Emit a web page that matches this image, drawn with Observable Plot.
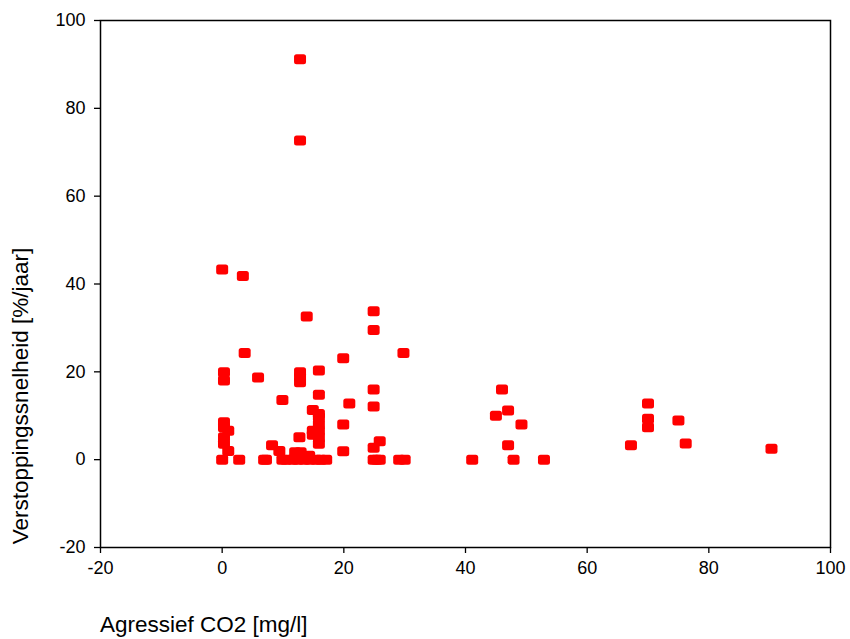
<!DOCTYPE html>
<html>
<head>
<meta charset="utf-8">
<script src="https://cdn.jsdelivr.net/npm/d3@7"></script>
<script src="https://cdn.jsdelivr.net/npm/@observablehq/plot@0.6"></script>
<style>
  html, body { margin: 0; padding: 0; background: #fff; overflow: hidden; }
  #chart { width: 850px; height: 639px; }
  #chart svg text { font-family: 'Liberation Sans', Arial, sans-serif; fill: #000; }
  #chart svg g[aria-label$="tick label"] text { font-size: 18px !important; }
</style>
</head>
<body>
<div id="chart"></div>
<script>
// Agressief CO2 [mg/l]
const co2 = [
  0, 3.4, 12.8, 12.8, 13.9, 24.9, 24.9, 3.7, 19.9, 29.8,
  0.3, 0.3, 5.9, 12.8, 12.8, 12.8, 15.9, 9.9, 15.9, 24.9,
  20.9, 24.9, 14.9, 15.9, 15.9, 19.9, 15.9, 0.3, 0.3, 1.0,
  14.9, 14.9, 15.9, 15.9, 15.9, 12.7, 0.3, 0.3, 1.0, 8.2,
  9.4, 12.0, 12.9, 19.9, 24.9, 25.9, 14.3,
  0, 2.8, 6.9, 7.2, 9.9, 10.5, 11.6, 12.4, 13.5, 14.4, 15.5, 16.2, 17.1,
  24.9, 25.4, 25.9, 29.1, 30.0, 41.1, 47.9, 52.9,
  46.0, 47.0, 45.0, 49.2, 47.0, 70, 70, 70, 75, 67.2, 76.2, 90.3
];
// Verstoppingssnelheid [%/jaar]
const rate = [
  43.3, 41.8, 91.2, 72.7, 32.6, 33.8, 29.5, 24.3, 23.1, 24.3,
  19.9, 18.0, 18.7, 19.9, 18.8, 17.6, 20.3, 13.6, 14.8, 16.0,
  12.8, 12.1, 11.3, 10.4, 9.8, 8.0, 8.1, 8.5, 7.4, 6.6,
  6.6, 5.7, 6.6, 5.1, 3.6, 5.1, 5.1, 3.6, 2.0, 3.3,
  2.0, 1.7, 1.7, 1.9, 2.7, 4.2, 0.9,
  0, 0, 0, 0, 0, 0, 0, 0, 0, 0, 0, 0, 0,
  0, 0, 0, 0, 0, 0, 0, 0,
  16.0, 11.2, 10.0, 8.0, 3.3, 12.8, 9.3, 7.4, 8.9, 3.3, 3.7, 2.5
];
const xTicks = [-20, 0, 20, 40, 60, 80, 100];
const yTicks = [-20, 0, 20, 40, 60, 80, 100];
const xLabel = "Agressief CO2 [mg/l]";
const yLabel = "Verstoppingssnelheid [%/jaar]";

const data = co2.map((x, i) => ({x, y: rate[i]}));

// rounded-rectangle marker
const roundRect = {
  draw(ctx, size) {
    const w = 6, h = 5, r = 2.5;
    ctx.moveTo(-w + r, -h);
    ctx.lineTo(w - r, -h);
    ctx.arcTo(w, -h, w, -h + r, r);
    ctx.lineTo(w, h - r);
    ctx.arcTo(w, h, w - r, h, r);
    ctx.lineTo(-w + r, h);
    ctx.arcTo(-w, h, -w, h - r, r);
    ctx.lineTo(-w, -h + r);
    ctx.arcTo(-w, -h, -w + r, -h, r);
    ctx.closePath();
  }
};

const plot = Plot.plot({
  width: 850,
  height: 639,
  marginLeft: 100,
  marginRight: 20,
  marginTop: 20,
  marginBottom: 92,
  style: {fontFamily: "'Liberation Sans', Arial, sans-serif", fontSize: "18px", color: "#000", background: "#fff"},
  x: {domain: [-20, 100], label: null},
  y: {domain: [-20, 100], label: null},
  marks: [
    Plot.dot(data, {x: "x", y: "y", symbol: roundRect, fill: "#ff0000", stroke: "none"}),
    Plot.frame({stroke: "#000", strokeWidth: 1.5}),
    Plot.axisX({ticks: xTicks, tickSize: 6, tickPadding: 8, label: null, tickFormat: d => String(d), stroke: "#000", strokeWidth: 1.3, fontSize: 18}),
    Plot.axisY({ticks: yTicks, tickSize: 6, tickPadding: 9, label: null, tickFormat: d => String(d), stroke: "#000", strokeWidth: 1.3, fontSize: 18})
  ]
});

const svg = d3.select(plot);
svg.append("text")
  .attr("x", 100).attr("y", 632)
  .attr("text-anchor", "start")
  .style("text-anchor", "start")
  .style("font-size", "22.5px")
  .style("fill", "#000")
  .text(xLabel);
svg.append("text")
  .attr("transform", "translate(28,396) rotate(-90)")
  .attr("text-anchor", "middle")
  .style("text-anchor", "middle")
  .style("font-size", "22.5px")
  .style("fill", "#000")
  .text(yLabel);

document.getElementById("chart").appendChild(plot);
</script>
</body>
</html>
